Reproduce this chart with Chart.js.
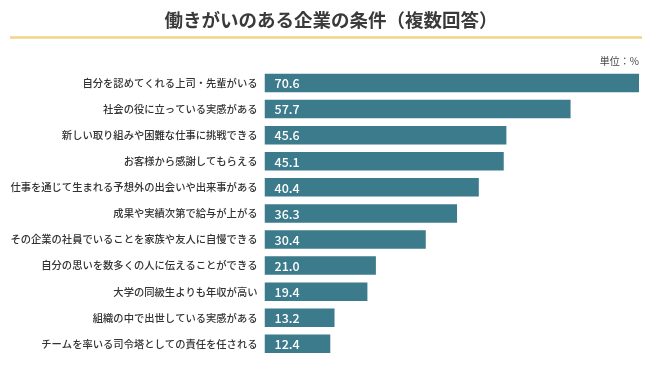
<!DOCTYPE html>
<html>
<head>
<meta charset="utf-8">
<script src="https://cdn.jsdelivr.net/npm/chart.js@4"></script>
<style>
html,body{margin:0;padding:0;background:#fff;}
#wrap{width:652px;height:370px;position:relative;}
</style>
</head>
<body>
<div id="wrap"><canvas id="c" width="652" height="370"></canvas></div>
<script>
const titleText = '働きがいのある企業の条件（複数回答）';
const unitText = '単位：%';
const categories = [
  '自分を認めてくれる上司・先輩がいる',
  '社会の役に立っている実感がある',
  '新しい取り組みや困難な仕事に挑戦できる',
  'お客様から感謝してもらえる',
  '仕事を通じて生まれる予想外の出会いや出来事がある',
  '成果や実績次第で給与が上がる',
  'その企業の社員でいることを家族や友人に自慢できる',
  '自分の思いを数多くの人に伝えることができる',
  '大学の同級生よりも年収が高い',
  '組織の中で出世している実感がある',
  'チームを率いる司令塔としての責任を任される'
];
const values = [70.6, 57.7, 45.6, 45.1, 40.4, 36.3, 30.4, 21.0, 19.4, 13.2, 12.4];

const FONT = '"Noto Sans CJK JP", "Noto Sans", sans-serif';

const decor = {
  id: 'decor',
  beforeDraw(chart) {
    const ctx = chart.ctx;
    ctx.save();
    ctx.fillStyle = '#fff';
    ctx.fillRect(0, 0, chart.width, chart.height);
    // title
    ctx.fillStyle = '#3a3a3a';
    ctx.font = 'bold 18.5px ' + FONT;
    ctx.textAlign = 'center';
    ctx.textBaseline = 'middle';
    ctx.fillText(titleText, 331, 20);
    // golden rule
    ctx.strokeStyle = '#f1d48a';
    ctx.lineWidth = 2.5;
    ctx.beginPath();
    ctx.moveTo(10, 37.5);
    ctx.lineTo(642, 37.5);
    ctx.stroke();
    // unit
    ctx.fillStyle = '#444';
    ctx.font = '10px ' + FONT;
    ctx.textAlign = 'right';
    ctx.fillText(unitText, 639, 61);
    ctx.restore();
  },
  afterDatasetsDraw(chart) {
    const ctx = chart.ctx;
    const meta = chart.getDatasetMeta(0);
    ctx.save();
    ctx.fillStyle = '#ffffff';
    ctx.font = '500 12.5px ' + FONT;
    ctx.textAlign = 'left';
    ctx.textBaseline = 'middle';
    meta.data.forEach((bar, i) => {
      ctx.fillText(values[i].toFixed(1), bar.base + 10, bar.y + 0.5);
    });
    ctx.restore();
  }
};

new Chart(document.getElementById('c'), {
  type: 'bar',
  data: {
    labels: categories,
    datasets: [{
      data: values,
      backgroundColor: '#3b7b8b',
      borderWidth: 0,
      categoryPercentage: 1,
      barPercentage: 0.71
    }]
  },
  options: {
    indexAxis: 'y',
    responsive: false,
    animation: false,
    devicePixelRatio: 1,
    layout: { padding: { top: 70, bottom: 8, right: 13, left: 0 } },
    plugins: { legend: { display: false }, tooltip: { enabled: false }, title: { display: false } },
    scales: {
      x: { display: false, min: 0, max: 70.6 },
      y: {
        grid: { display: false, drawTicks: false },
        border: { display: false },
        afterFit(scale) { scale.width = 264.5; },
        ticks: {
          color: '#333',
          padding: 7,
          font: { family: FONT, size: 10.3, weight: '500' },
          autoSkip: false
        }
      }
    }
  },
  plugins: [decor]
});
</script>
</body>
</html>
